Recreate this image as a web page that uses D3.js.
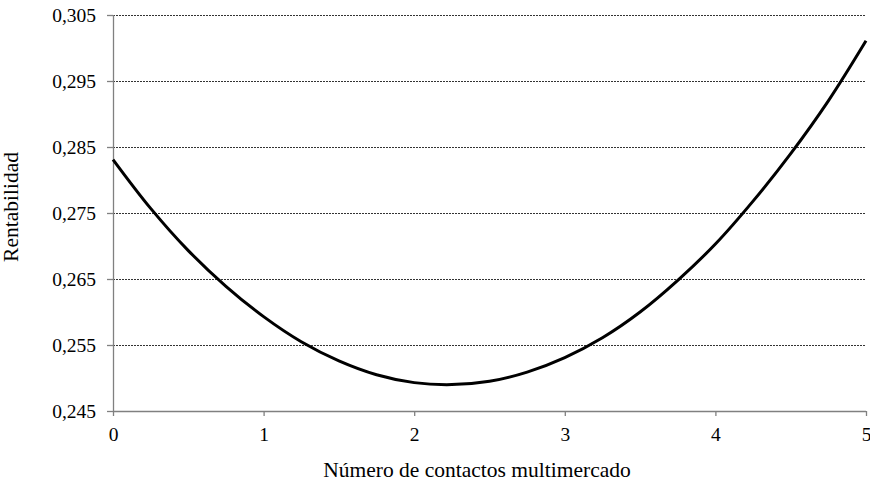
<!DOCTYPE html>
<html>
<head>
<meta charset="utf-8">
<script src="https://cdn.jsdelivr.net/npm/d3@7"></script>
<style>
  body { margin: 0; background: #fff; }
</style>
</head>
<body>
<div id="chart-area"></div>
<script>
// values
var contactos = [0, 0.25, 0.5, 0.75, 1, 1.25, 1.5, 1.75, 2, 2.25, 2.5, 2.75, 3, 3.25, 3.5, 3.75, 4, 4.25, 4.5, 4.75, 5];
var rentabilidad = [0.2831, 0.2757, 0.2693, 0.2639, 0.2593, 0.2555, 0.2526, 0.2505, 0.2493, 0.2490, 0.2495, 0.2509, 0.2531, 0.2561, 0.2600, 0.2648, 0.2703, 0.2768, 0.2840, 0.2920, 0.3011];
var yTicks = [0.245, 0.255, 0.265, 0.275, 0.285, 0.295, 0.305];
var xTicks = [0, 1, 2, 3, 4, 5];

var serif = "'Liberation Serif'";

var margin = {left: 113, right: 4, top: 15, bottom: 71};
var width = 870 - margin.left - margin.right;
var height = 482 - margin.top - margin.bottom;

var xScale = d3.scaleLinear().domain([0, 5]).range([0, width]);
var yScale = d3.scaleLinear().domain([0.245, 0.305]).range([height, 0]);

var svg = d3.select("#chart-area")
  .append("svg")
  .attr("width", 870)
  .attr("height", 482)
  .append("g")
  .attr("transform", "translate(" + margin.left + ", " + margin.top + ")");

// dashed gridlines
svg.selectAll(".grid")
  .data(yTicks.slice(1))
  .enter()
  .append("line")
  .attr("class", "grid")
  .attr("x1", 0)
  .attr("x2", width)
  .attr("y1", (d) => yScale(d) + 0.5)
  .attr("y2", (d) => yScale(d) + 0.5)
  .attr("stroke", "#333")
  .attr("stroke-width", 1)
  .attr("stroke-dasharray", "2,1");

var fmt = (d) => d3.format(".3f")(d).replace(".", ",");

var yAxis = d3.axisLeft(yScale)
  .tickValues(yTicks)
  .tickSize(6)
  .tickPadding(11)
  .tickFormat(fmt);

var yAxisGroup = svg.append("g")
  .attr("class", "y-axis")
  .call(yAxis);

var xAxis = d3.axisBottom(xScale)
  .tickValues(xTicks)
  .tickSize(5)
  .tickPadding(11)
  .tickFormat(d3.format("d"));

var xAxisGroup = svg.append("g")
  .attr("class", "x-axis")
  .attr("transform", "translate(0," + height + ")")
  .call(xAxis);

[yAxisGroup, xAxisGroup].forEach((g) => {
  g.select(".domain").attr("stroke", "#808080").attr("stroke-width", 1.3);
  g.selectAll(".tick line").attr("stroke", "#808080").attr("stroke-width", 1.3);
  g.selectAll("text")
    .style("font-family", serif)
    .style("font-size", "19.5px")
    .attr("fill", "#000");
});
yAxisGroup.select(".domain").attr("d", "M0.5," + height + "V0");
xAxisGroup.select(".domain").attr("d", "M0,0.5H" + width);

var line = d3.line()
  .x((d, i) => xScale(contactos[i]))
  .y((d) => yScale(d))
  .curve(d3.curveCatmullRom);

svg.append("path")
  .datum(rentabilidad)
  .attr("fill", "none")
  .attr("stroke", "#000")
  .attr("stroke-width", 3)
  .attr("d", line);

svg.append("text")
  .attr("class", "x-axis-label")
  .attr("x", 477 - margin.left)
  .attr("y", 477 - margin.top)
  .style("font-family", serif)
  .style("font-size", "21.5px")
  .attr("text-anchor", "middle")
  .text("Número de contactos multimercado");

svg.append("text")
  .attr("class", "y-axis-label")
  .attr("x", -(207 - margin.top))
  .attr("y", 18 - margin.left)
  .style("font-family", serif)
  .style("font-size", "21.5px")
  .attr("text-anchor", "middle")
  .attr("transform", "rotate(-90)")
  .text("Rentabilidad");
</script>
</body>
</html>
